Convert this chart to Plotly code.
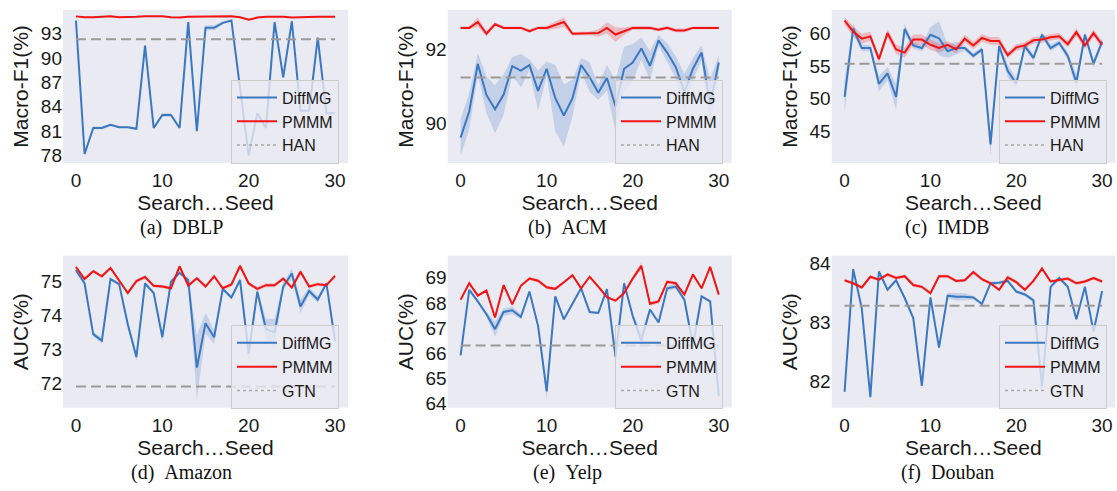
import plotly.graph_objects as go

seeds = list(range(31))
x_ticks = [0, 10, 20, 30]

# ---------------- (a) DBLP ----------------
dblp_diffmg = [94.6, 78.2, 81.4, 81.4, 81.8, 81.5, 81.5, 81.3, 91.5, 81.4, 83.0, 83.0, 81.4, 94.4, 81.0, 93.7,
               93.7, 94.3, 94.6, 86.0, 78.0, 83.2, 81.4, 94.4, 87.6, 94.5, 83.5, 83.5, 92.5, 83.2, 83.2]
dblp_diffmg_std = [0.15, 0.25, 0.2, 0.15, 0.15, 0.1, 0.1, 0.15, 0.15, 0.15, 0.25, 0.25, 0.15, 0.1, 0.15, 0.3,
                   0.3, 0.2, 0.1, 0.3, 0.3, 0.2, 0.15, 0.1, 0.2, 0.1, 0.2, 0.2, 0.1, 0.1, 0.1]
dblp_pmmm = [95.1, 95.0, 95.0, 95.05, 95.1, 95.0, 95.0, 95.05, 95.1, 95.1, 95.1, 95.0, 94.95, 95.05, 95.05, 95.05,
             95.1, 95.1, 95.1, 95.0, 94.7, 94.95, 95.05, 95.05, 95.05, 94.95, 95.0, 95.0, 95.05, 95.05, 95.05]
dblp_pmmm_std = [0.05, 0.05, 0.05, 0.05, 0.05, 0.05, 0.05, 0.05, 0.05, 0.05, 0.05, 0.05, 0.05, 0.05, 0.05, 0.05,
                 0.05, 0.05, 0.05, 0.05, 0.1, 0.05, 0.05, 0.05, 0.05, 0.05, 0.05, 0.05, 0.05, 0.05, 0.05]
dblp_han = 92.3
dblp_yticks = [78, 81, 84, 87, 90, 93]

# ---------------- (b) ACM ----------------
acm_diffmg = [89.6, 90.31, 91.6, 90.76, 90.37, 90.77, 91.54, 91.42, 91.57, 90.87, 91.47, 90.67, 90.2, 90.67, 91.57,
              91.24, 90.82, 91.22, 90.45, 91.47, 91.64, 92.02, 91.55, 92.24, 91.91, 91.51, 90.84, 91.47, 91.91,
              90.5, 91.64]
acm_diffmg_std = [0.5, 0.5, 0.3, 0.5, 0.65, 0.55, 0.25, 0.45, 0.15, 0.55, 0.2, 0.9, 0.85, 0.5, 0.2, 0.4, 0.2,
                  0.35, 0.7, 0.6, 0.5, 0.3, 0.4, 0.15, 0.25, 0.3, 0.5, 0.3, 0.2, 0.7, 0.2]
acm_pmmm = [92.58, 92.58, 92.74, 92.42, 92.68, 92.58, 92.58, 92.58, 92.49, 92.58, 92.58, 92.65, 92.74, 92.42,
            92.43, 92.43, 92.44, 92.58, 92.4, 92.49, 92.58, 92.58, 92.58, 92.53, 92.58, 92.51, 92.51, 92.58,
            92.58, 92.58, 92.58]
acm_pmmm_std = [0.04, 0.04, 0.13, 0.08, 0.05, 0.04, 0.04, 0.04, 0.05, 0.04, 0.05, 0.1, 0.13, 0.05, 0.05, 0.05,
                0.1, 0.15, 0.2, 0.1, 0.05, 0.05, 0.05, 0.05, 0.05, 0.05, 0.05, 0.04, 0.04, 0.04, 0.04]
acm_han = 91.23
acm_yticks = [90, 92]

# ---------------- (c) IMDB ----------------
imdb_diffmg = [50.3, 60.8, 57.8, 57.8, 52.3, 53.9, 50.3, 60.75, 58.2, 57.8, 59.85, 59.3, 57.3, 57.8, 57.8, 56.6,
               57.6, 43.0, 58.1, 54.3, 52.3, 58.1, 56.3, 59.85, 57.8, 58.6, 56.6, 52.5, 59.85, 55.4, 58.8]
imdb_diffmg_std = [2.5, 0.8, 0.5, 0.5, 1.2, 1.0, 2.0, 0.8, 0.5, 0.5, 1.2, 2.6, 1.0, 1.0, 0.4, 0.4, 0.4, 1.7,
                   0.5, 1.0, 0.8, 0.5, 0.5, 0.4, 0.5, 0.4, 0.6, 1.2, 0.5, 0.6, 0.5]
imdb_pmmm = [62.0, 60.35, 59.25, 59.6, 56.1, 60.1, 57.6, 57.1, 59.1, 59.1, 58.3, 57.8, 58.3, 57.6, 59.25, 58.2,
             59.35, 58.9, 58.9, 56.7, 57.9, 58.2, 59.0, 59.1, 59.45, 59.6, 58.4, 60.25, 58.2, 60.1, 58.3]
imdb_pmmm_std = [0.6, 0.8, 0.8, 0.7, 0.6, 0.6, 0.7, 0.8, 0.8, 0.8, 0.8, 0.7, 0.6, 0.6, 0.6, 0.6, 0.6, 0.6, 0.6,
                 0.5, 0.5, 0.5, 0.5, 0.5, 0.5, 0.5, 0.5, 0.6, 0.5, 0.6, 0.5]
imdb_han = 55.4
imdb_yticks = [45, 50, 55, 60]

# ---------------- (d) Amazon ----------------
amazon_diffmg = [75.32, 74.93, 73.45, 73.26, 75.06, 74.91, 73.74, 72.78, 74.93, 74.65, 73.36, 74.98, 75.24, 75.03,
                 72.47, 73.77, 73.36, 74.77, 74.52, 75.03, 72.88, 74.69, 73.6, 73.5, 74.84, 75.22, 74.26, 74.71,
                 74.46, 74.93, 73.25]
amazon_diffmg_std = [0.05, 0.05, 0.08, 0.08, 0.05, 0.05, 0.08, 0.12, 0.05, 0.05, 0.12, 0.05, 0.05, 0.05, 0.95,
                     0.3, 0.2, 0.05, 0.05, 0.05, 0.3, 0.1, 0.3, 0.4, 0.1, 0.15, 0.2, 0.1, 0.1, 0.05, 0.15]
amazon_pmmm = [75.41, 75.06, 75.29, 75.14, 75.38, 75.03, 74.65, 75.0, 75.12, 74.86, 74.84, 74.79, 75.43, 74.87,
               75.08, 74.84, 75.14, 74.79, 74.9, 75.44, 74.93, 74.77, 74.88, 74.88, 75.07, 74.81, 75.27, 74.84,
               74.91, 74.88, 75.15]
amazon_pmmm_std = [0.05, 0.05, 0.05, 0.05, 0.05, 0.05, 0.05, 0.05, 0.06, 0.05, 0.05, 0.05, 0.06, 0.05, 0.05, 0.05,
                   0.05, 0.05, 0.06, 0.07, 0.05, 0.05, 0.06, 0.06, 0.05, 0.05, 0.08, 0.05, 0.05, 0.05, 0.06]
amazon_gtn = 71.92
amazon_yticks = [72, 73, 74, 75]

# ---------------- (e) Yelp ----------------
yelp_diffmg = [65.92, 68.52, 68.06, 67.55, 66.96, 67.64, 67.71, 67.45, 68.45, 67.09, 64.49, 68.26, 67.35, 67.94,
               68.58, 67.64, 67.6, 68.55, 65.86, 68.78, 67.48, 66.51, 67.74, 67.22, 68.58, 68.65, 68.13, 66.31,
               68.26, 68.06, 64.3]
yelp_diffmg_std = [0.1, 0.05, 0.05, 0.1, 0.3, 0.15, 0.15, 0.1, 0.05, 0.1, 0.35, 0.05, 0.05, 0.05, 0.05, 0.05,
                   0.05, 0.05, 0.3, 0.1, 0.1, 0.35, 0.05, 0.05, 0.1, 0.1, 0.1, 0.3, 0.05, 0.05, 0.2]
yelp_pmmm = [68.13, 68.78, 68.29, 68.49, 67.42, 68.71, 67.94, 68.68, 68.97, 68.88, 68.62, 68.56, 68.82, 69.1,
             68.58, 69.04, 68.65, 68.23, 68.09, 68.39, 68.97, 69.47, 67.97, 68.06, 68.84, 68.78, 68.33, 69.13,
             68.58, 69.43, 68.33]
yelp_pmmm_std = [0.05, 0.07, 0.05, 0.05, 0.07, 0.05, 0.05, 0.05, 0.07, 0.07, 0.07, 0.07, 0.05, 0.05, 0.05, 0.05,
                 0.05, 0.05, 0.05, 0.07, 0.1, 0.13, 0.08, 0.08, 0.07, 0.07, 0.05, 0.1, 0.05, 0.05, 0.05]
yelp_gtn = 66.31
yelp_yticks = [64, 65, 66, 67, 68, 69]

# ---------------- (f) Douban ----------------
douban_diffmg = [81.83, 83.91, 83.25, 81.74, 83.87, 83.56, 83.72, 83.42, 83.08, 81.93, 83.43, 82.58, 83.46, 83.44,
                 83.44, 83.43, 83.32, 83.67, 83.68, 83.71, 83.53, 83.48, 83.38, 81.92, 83.61, 83.76, 83.61, 83.06,
                 83.61, 82.85, 83.54]
douban_diffmg_std = [0.05, 0.03, 0.03, 0.07, 0.03, 0.03, 0.03, 0.03, 0.03, 0.05, 0.03, 0.05, 0.05, 0.06, 0.06,
                     0.03, 0.03, 0.03, 0.03, 0.03, 0.03, 0.03, 0.03, 0.14, 0.03, 0.03, 0.03, 0.03, 0.03, 0.05, 0.03]
douban_pmmm = [83.72, 83.67, 83.6, 83.78, 83.73, 83.82, 83.76, 83.79, 83.64, 83.61, 83.5, 83.79, 83.79, 83.71,
               83.72, 83.86, 83.74, 83.67, 83.56, 83.77, 83.69, 83.56, 83.71, 83.92, 83.7, 83.72, 83.75, 83.67,
               83.7, 83.76, 83.7]
douban_pmmm_std = [0.03, 0.03, 0.03, 0.03, 0.03, 0.03, 0.03, 0.03, 0.03, 0.03, 0.03, 0.03, 0.03, 0.03, 0.03, 0.04,
                   0.03, 0.03, 0.03, 0.03, 0.03, 0.03, 0.03, 0.04, 0.03, 0.03, 0.03, 0.03, 0.03, 0.03, 0.03]
douban_gtn = 83.29
douban_yticks = [82, 83, 84]

panels = [
    dict(cap="(a)\u00a0\u00a0DBLP", ytitle="Macro-F1(%)", base="HAN", d=dblp_diffmg, ds=dblp_diffmg_std,
         p=dblp_pmmm, ps=dblp_pmmm_std, b=dblp_han, yt=dblp_yticks, yr=[77.1, 95.9]),
    dict(cap="(b)\u00a0\u00a0ACM", ytitle="Macro-F1(%)", base="HAN", d=acm_diffmg, ds=acm_diffmg_std,
         p=acm_pmmm, ps=acm_pmmm_std, b=acm_han, yt=acm_yticks, yr=[88.91, 93.07]),
    dict(cap="(c)\u00a0\u00a0IMDB", ytitle="Macro-F1(%)", base="HAN", d=imdb_diffmg, ds=imdb_diffmg_std,
         p=imdb_pmmm, ps=imdb_pmmm_std, b=imdb_han, yt=imdb_yticks, yr=[40.13, 63.67]),
    dict(cap="(d)\u00a0\u00a0Amazon", ytitle="AUC(%)", base="GTN", d=amazon_diffmg, ds=amazon_diffmg_std,
         p=amazon_pmmm, ps=amazon_pmmm_std, b=amazon_gtn, yt=amazon_yticks, yr=[71.30, 75.745]),
    dict(cap="(e)\u00a0\u00a0Yelp", ytitle="AUC(%)", base="GTN", d=yelp_diffmg, ds=yelp_diffmg_std,
         p=yelp_pmmm, ps=yelp_pmmm_std, b=yelp_gtn, yt=yelp_yticks, yr=[63.84, 69.88]),
    dict(cap="(f)\u00a0\u00a0Douban", ytitle="AUC(%)", base="GTN", d=douban_diffmg, ds=douban_diffmg_std,
         p=douban_pmmm, ps=douban_pmmm_std, b=douban_gtn, yt=douban_yticks, yr=[81.56, 84.14]),
]

W, H = 1117, 491
BLUE = "#3a78c2"
RED = "#f01414"
GRAY = "#9a9a9a"
BLUE_FILL = "rgba(58,120,194,0.22)"
RED_FILL = "rgba(240,20,20,0.22)"
FONT = "Liberation Sans, Arial, sans-serif"

# pixel geometry of each plot area (left, right) and (top, bottom)
col_px = [(63, 348), (447.7, 731.7), (831.7, 1115)]
row_px = [(8, 164), (258.3, 413.3)]
leg_right = [339, 723, 1107]
leg_top = [79, 329]
cap_x = [181, 567, 947]
cap_y = [230, 479]

fig = go.Figure()
layout = dict(width=W, height=H, margin=dict(l=0, r=0, t=0, b=0),
              paper_bgcolor="white", plot_bgcolor="#EAEAF2",
              font=dict(family=FONT, color="#1a1a1a"), showlegend=True)
annotations = []

for k, pn in enumerate(panels):
    r, c = divmod(k, 3)
    idx = "" if k == 0 else str(k + 1)
    xa, ya = "x" + idx, "y" + idx
    leg = "legend" + idx
    x0, x1 = col_px[c]
    t, b = row_px[r]

    d_up = [m + s for m, s in zip(pn["d"], pn["ds"])]
    d_lo = [m - s for m, s in zip(pn["d"], pn["ds"])]
    p_up = [m + s for m, s in zip(pn["p"], pn["ps"])]
    p_lo = [m - s for m, s in zip(pn["p"], pn["ps"])]

    fig.add_trace(go.Scatter(x=seeds + seeds[::-1], y=d_up + d_lo[::-1], fill="toself", fillcolor=BLUE_FILL,
                             line=dict(width=0), mode="lines", hoverinfo="skip", showlegend=False,
                             xaxis=xa, yaxis=ya))
    fig.add_trace(go.Scatter(x=seeds + seeds[::-1], y=p_up + p_lo[::-1], fill="toself", fillcolor=RED_FILL,
                             line=dict(width=0), mode="lines", hoverinfo="skip", showlegend=False,
                             xaxis=xa, yaxis=ya))
    fig.add_trace(go.Scatter(x=seeds, y=pn["d"], mode="lines", name="DiffMG", line=dict(color=BLUE, width=2),
                             xaxis=xa, yaxis=ya, legend=leg, showlegend=True))
    fig.add_trace(go.Scatter(x=seeds, y=pn["p"], mode="lines", name="PMMM", line=dict(color=RED, width=2),
                             xaxis=xa, yaxis=ya, legend=leg, showlegend=True))
    fig.add_trace(go.Scatter(x=[seeds[0], seeds[-1]], y=[pn["b"], pn["b"]], mode="lines", name=pn["base"],
                             line=dict(color=GRAY, width=2, dash="10px,5px"), xaxis=xa, yaxis=ya,
                             showlegend=False))
    # legend entry drawn with a thin dotted sample as in the reference
    fig.add_trace(go.Scatter(x=[None], y=[None], mode="lines", name=pn["base"],
                             line=dict(color="#aaaaaa", width=1.5, dash="dot"), xaxis=xa, yaxis=ya,
                             legend=leg, showlegend=True))

    layout["xaxis" + idx] = dict(domain=[x0 / W, x1 / W], anchor=ya, range=[-1.5, 31.5],
                                 tickvals=x_ticks, showgrid=False, zeroline=False, showline=False,
                                 ticks="", ticklabelstandoff=4,
                                 tickfont=dict(size=19, family=FONT, color="#1a1a1a"),
                                 title=dict(text="Search\u2026Seed", font=dict(size=21, family=FONT),
                                            standoff=0))
    layout["yaxis" + idx] = dict(domain=[1 - b / H, 1 - t / H], anchor=xa, range=pn["yr"],
                                 tickvals=pn["yt"], showgrid=False, zeroline=False, showline=False,
                                 ticks="", tickfont=dict(size=19, family=FONT, color="#1a1a1a"),
                                 title=dict(text=pn["ytitle"], font=dict(size=21, family=FONT),
                                            standoff=6))
    layout[leg] = dict(x=leg_right[c] / W, y=1 - leg_top[r] / H, xanchor="right", yanchor="top",
                       bgcolor="rgba(234,234,242,0.8)", bordercolor="#cccccc", borderwidth=1,
                       font=dict(size=16, family=FONT, color="#1a1a1a"), itemwidth=40,
                       tracegroupgap=0, traceorder="normal")
    annotations.append(dict(text=pn["cap"], x=cap_x[c] / W, y=1 - cap_y[r] / H, xref="paper", yref="paper",
                            xanchor="center", yanchor="middle", showarrow=False,
                            font=dict(family="Liberation Serif, Times New Roman, serif", size=20,
                                      color="#111111")))

layout["annotations"] = annotations
fig.update_layout(**layout)
fig.write_html("out.html", config={"displayModeBar": False},
               post_script="document.body.style.margin='0';document.body.style.overflow='hidden';")
